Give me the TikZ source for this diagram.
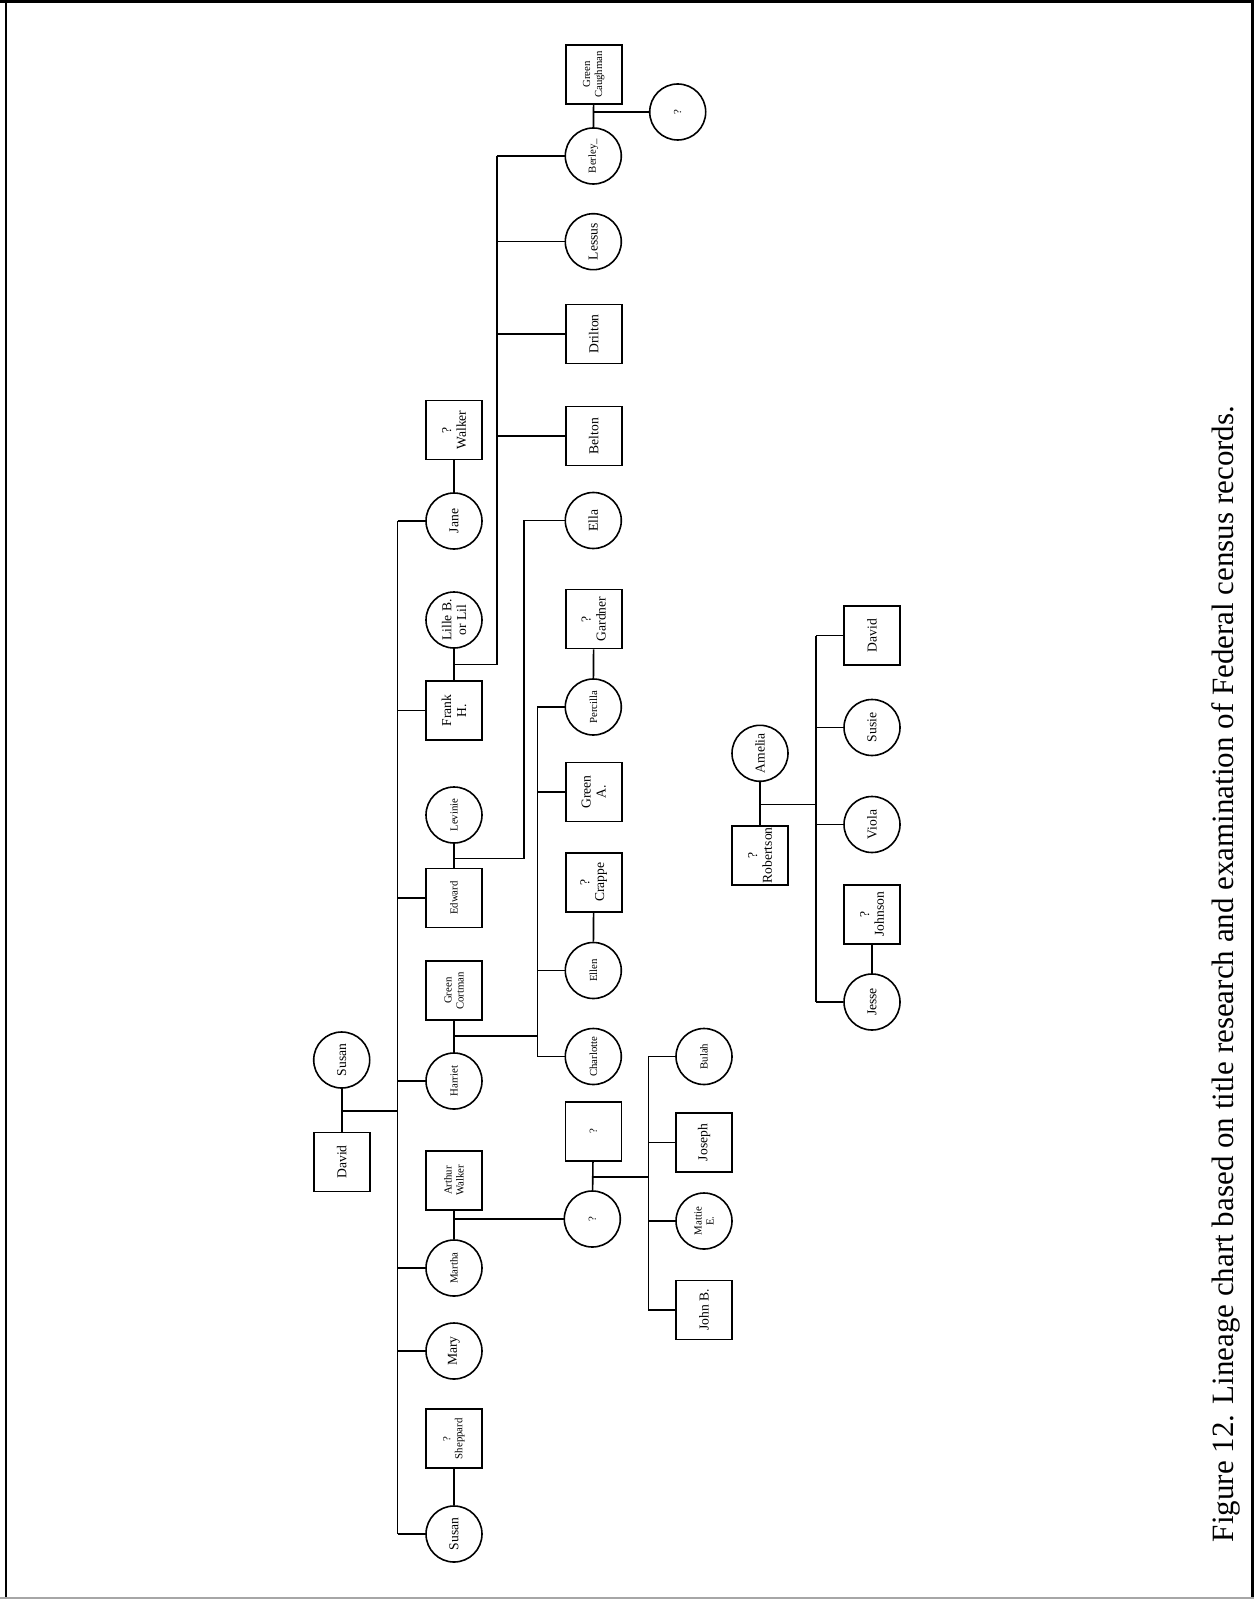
\documentclass[tikz,border=0pt]{standalone}
\usepackage{fontspec}
\setmainfont{Liberation Serif}
\usetikzlibrary{calc}
\begin{document}
\begin{tikzpicture}[x=0.5pt,y=-0.5pt,line width=0.8pt,
  fem/.style={circle,draw,minimum size=28pt,inner sep=0pt,rotate=90,align=center},
  mal/.style={rectangle,draw,minimum width=29.5pt,minimum height=28pt,inner sep=0pt,rotate=90,align=center},
  big/.style={font=\fontsize{6.8}{7.4}\selectfont},
  sml/.style={font=\fontsize{5.4}{6}\selectfont}]
\useasboundingbox (0,0) rectangle (1254,1599);
% frame
\draw[line width=1.5pt] (0,1.5) -- (1254,1.5);
\draw[line width=1.2pt] (6,0) -- (6,1599);
\draw[line width=1.2pt] (1252.5,0) -- (1252.5,1599);
\draw[line width=0.6pt,black!35] (0,1598) -- (1254,1598);

% generation 1
\node[fem,big] (susan1) at (341.7,1060) {Susan};
\node[mal,big] (david1) at (341.7,1162) {David};

% generation 2
\node[mal,big] (walker) at (454,430) {?\\Walker};
\node[fem,big] (jane) at (454,521) {Jane};
\node[fem,big] (lille) at (454,620) {Lille B.\\or Lil};
\node[mal,big] (frank) at (454,710.5) {Frank\\H.};
\node[fem,sml] (levinie) at (454,815) {Levinie};
\node[mal,sml] (edward) at (454,898) {Edward};
\node[mal,sml] (cortman) at (454,990.7) {Green\\Cortman};
\node[fem,sml] (harriet) at (454,1081) {Harriet};
\node[mal,sml] (awalker) at (454,1180.4) {Arthur\\Walker};
\node[fem,sml] (martha) at (454,1268) {Martha};
\node[fem,big] (mary) at (454,1351) {Mary};
\node[mal,sml] (sheppard) at (454,1438.7) {?\\Sheppard};
\node[fem,big] (susan2) at (454,1534) {Susan};

% generation 3 (Frank H. family)
\node[mal,sml] (caughman) at (593.7,74.5) {Green\\Caughman};
\node[fem,sml] (qcirc1) at (677.7,112) {?};
\node[fem,sml] (berley) at (593.3,156) {Berley\_};
\node[fem,big] (lessus) at (593.3,241.7) {Lessus};
\node[mal,big] (drilton) at (593.7,334) {Drilton};
\node[mal,big] (belton) at (593.7,436) {Belton};

% Edward family
\node[fem,big] (ella) at (593.3,520.5) {Ella};

% Harriet family
\node[mal,big] (gardner) at (593.7,619) {?\\Gardner};
\node[fem,sml] (percilla) at (593.3,707) {Percilla};
\node[mal,big] (greena) at (593.7,792) {Green\\A.};
\node[mal,big] (crappe) at (593.7,882.2) {?\\Crappe};
\node[fem,sml] (ellen) at (593.3,970.5) {Ellen};
\node[fem,sml] (charlotte) at (593.3,1056.5) {Charlotte};

% Martha family
\node[mal,sml] (qbox) at (593.3,1131.2) {?};
\node[fem,sml] (qcirc2) at (592.3,1219) {?};
\node[fem,sml] (bulah) at (704,1056.5) {Bulah};
\node[mal,big] (joseph) at (704,1142.5) {Joseph};
\node[fem,sml] (mattie) at (704,1221) {Mattie\\E.};
\node[mal,big] (johnb) at (704,1310) {John B.};

% Robertson family
\node[fem,big] (amelia) at (760,753.3) {Amelia};
\node[mal,big] (robertson) at (760,855.3) {?\\Robertson};
\node[mal,big] (davidr) at (872,635.5) {David};
\node[fem,big] (susie) at (872,727.5) {Susie};
\node[fem,big] (viola) at (872,824.5) {Viola};
\node[mal,big] (johnson) at (872,914.2) {?\\Johnson};
\node[fem,big] (jesse) at (872,1002) {Jesse};

% caption
\node[rotate=90,font=\fontsize{15.5}{18}\selectfont] (cap) at (1226,974)
  {Figure 12. Lineage chart based on title research and examination of Federal census records.};

% sibship axes
\coordinate (m) at (397.5,0);
\coordinate (b) at (496.7,0);
\coordinate (e) at (524,0);
\coordinate (p) at (537.3,0);
\coordinate (k) at (648.3,0);
\coordinate (r) at (816,0);

% junctions
\coordinate (pj) at (341.7,1111);
\coordinate (fj) at (454,664.3);
\coordinate (ej) at (454,858.3);
\coordinate (hj) at (454,1036);
\coordinate (mj) at (454,1219);
\coordinate (cj) at (593.3,112);
\coordinate (qj) at (592.3,1176.7);
\coordinate (aj) at (760,804.3);

% parents
\draw (susan1) -- (david1);
\draw (pj) -- (pj -| m);
\draw (jane -| m) -- (susan2 -| m);
\foreach \c in {jane,frank,edward,harriet,martha,mary,susan2}
  \draw (\c -| m) -- (\c);

% spouses
\draw (walker) -- (jane);
\draw (lille) -- (frank);
\draw (levinie) -- (edward);
\draw (cortman) -- (harriet);
\draw (awalker) -- (martha);
\draw (sheppard) -- (susan2);
\draw (caughman) -- (berley);
\draw (gardner) -- (percilla);
\draw (crappe) -- (ellen);
\draw (qbox) -- (qcirc2);
\draw (amelia) -- (robertson);
\draw (johnson) -- (jesse);

% Frank H. children
\draw (fj) -- (fj -| b) -- (berley -| b);
\foreach \c in {berley,lessus,drilton,belton}
  \draw (\c -| b) -- (\c);
\draw (cj) -- (qcirc1);

% Edward child
\draw (ej) -- (ej -| e) -- (ella -| e) -- (ella);

% Harriet children
\draw (hj) -- (hj -| p);
\draw (percilla -| p) -- (charlotte -| p);
\foreach \c in {percilla,greena,ellen,charlotte}
  \draw (\c -| p) -- (\c);

% Martha child and grandchildren
\draw (mj) -- (qcirc2);
\draw (qj) -- (qj -| k);
\draw (bulah -| k) -- (johnb -| k);
\foreach \c in {bulah,joseph,mattie,johnb}
  \draw (\c -| k) -- (\c);

% Robertson children
\draw (aj) -- (aj -| r);
\draw (davidr -| r) -- (jesse -| r);
\foreach \c in {davidr,susie,viola,jesse}
  \draw (\c -| r) -- (\c);
\end{tikzpicture}
\end{document}
